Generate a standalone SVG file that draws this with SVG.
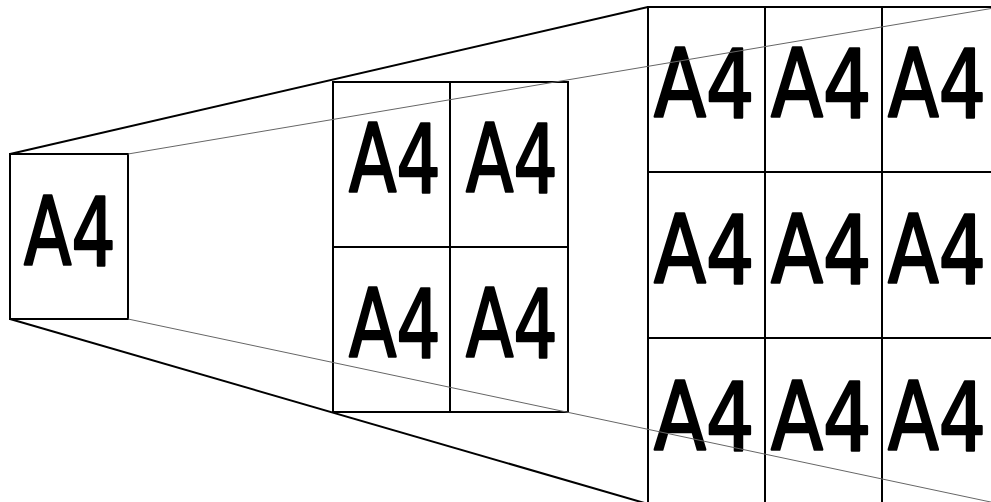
<svg xmlns="http://www.w3.org/2000/svg" width="991" height="502" viewBox="0 0 991 502">
<style>
.box{fill:#fff;stroke:#000;stroke-width:2}
.thick{stroke:#000;stroke-width:2;fill:none}
.thin{stroke:#666;stroke-width:1;fill:none}
.t{font-family:"DejaVu Sans",sans-serif;font-size:95px;fill:#000;stroke:#000;stroke-width:2.6;stroke-linejoin:round}
</style>
<rect width="991" height="502" fill="#fff"/>
<g id="connectors-back">
<line class="thick" x1="10" y1="154" x2="648" y2="7"/>
<line class="thick" x1="10" y1="319" x2="648" y2="504"/>
</g>
<g id="sheet1">
<rect class="box" x="10" y="154" width="118" height="165"/>
<text class="t" transform="translate(24 265) scale(0.73 1)">A4</text>
</g>
<g id="sheet2">
<rect class="box" x="333" y="82" width="235" height="330"/>
<line class="thick" x1="450" y1="82" x2="450" y2="412"/>
<line class="thick" x1="333" y1="247" x2="568" y2="247"/>
<text class="t" transform="translate(349 192) scale(0.73 1)">A4</text>
<text class="t" transform="translate(466 192) scale(0.73 1)">A4</text>
<text class="t" transform="translate(349 357) scale(0.73 1)">A4</text>
<text class="t" transform="translate(466 357) scale(0.73 1)">A4</text>
</g>
<g id="sheet3">
<rect class="box" x="648" y="7" width="353" height="497"/>
<line class="thick" x1="765" y1="7" x2="765" y2="504"/>
<line class="thick" x1="882" y1="7" x2="882" y2="504"/>
<line class="thick" x1="648" y1="172" x2="1001" y2="172"/>
<line class="thick" x1="648" y1="338" x2="1001" y2="338"/>
<text class="t" transform="translate(654 117) scale(0.8 1)">A4</text>
<text class="t" transform="translate(771 117) scale(0.8 1)">A4</text>
<text class="t" transform="translate(888 117) scale(0.78 1)">A4</text>
<text class="t" transform="translate(654 283) scale(0.8 1)">A4</text>
<text class="t" transform="translate(771 283) scale(0.8 1)">A4</text>
<text class="t" transform="translate(888 283) scale(0.78 1)">A4</text>
<text class="t" transform="translate(654 450) scale(0.8 1)">A4</text>
<text class="t" transform="translate(771 450) scale(0.8 1)">A4</text>
<text class="t" transform="translate(888 450) scale(0.78 1)">A4</text>
</g>
<g id="connectors">
<line class="thin" x1="128" y1="154" x2="1000" y2="7"/>
<line class="thin" x1="128" y1="319" x2="1000" y2="504"/>
</g>
</svg>
